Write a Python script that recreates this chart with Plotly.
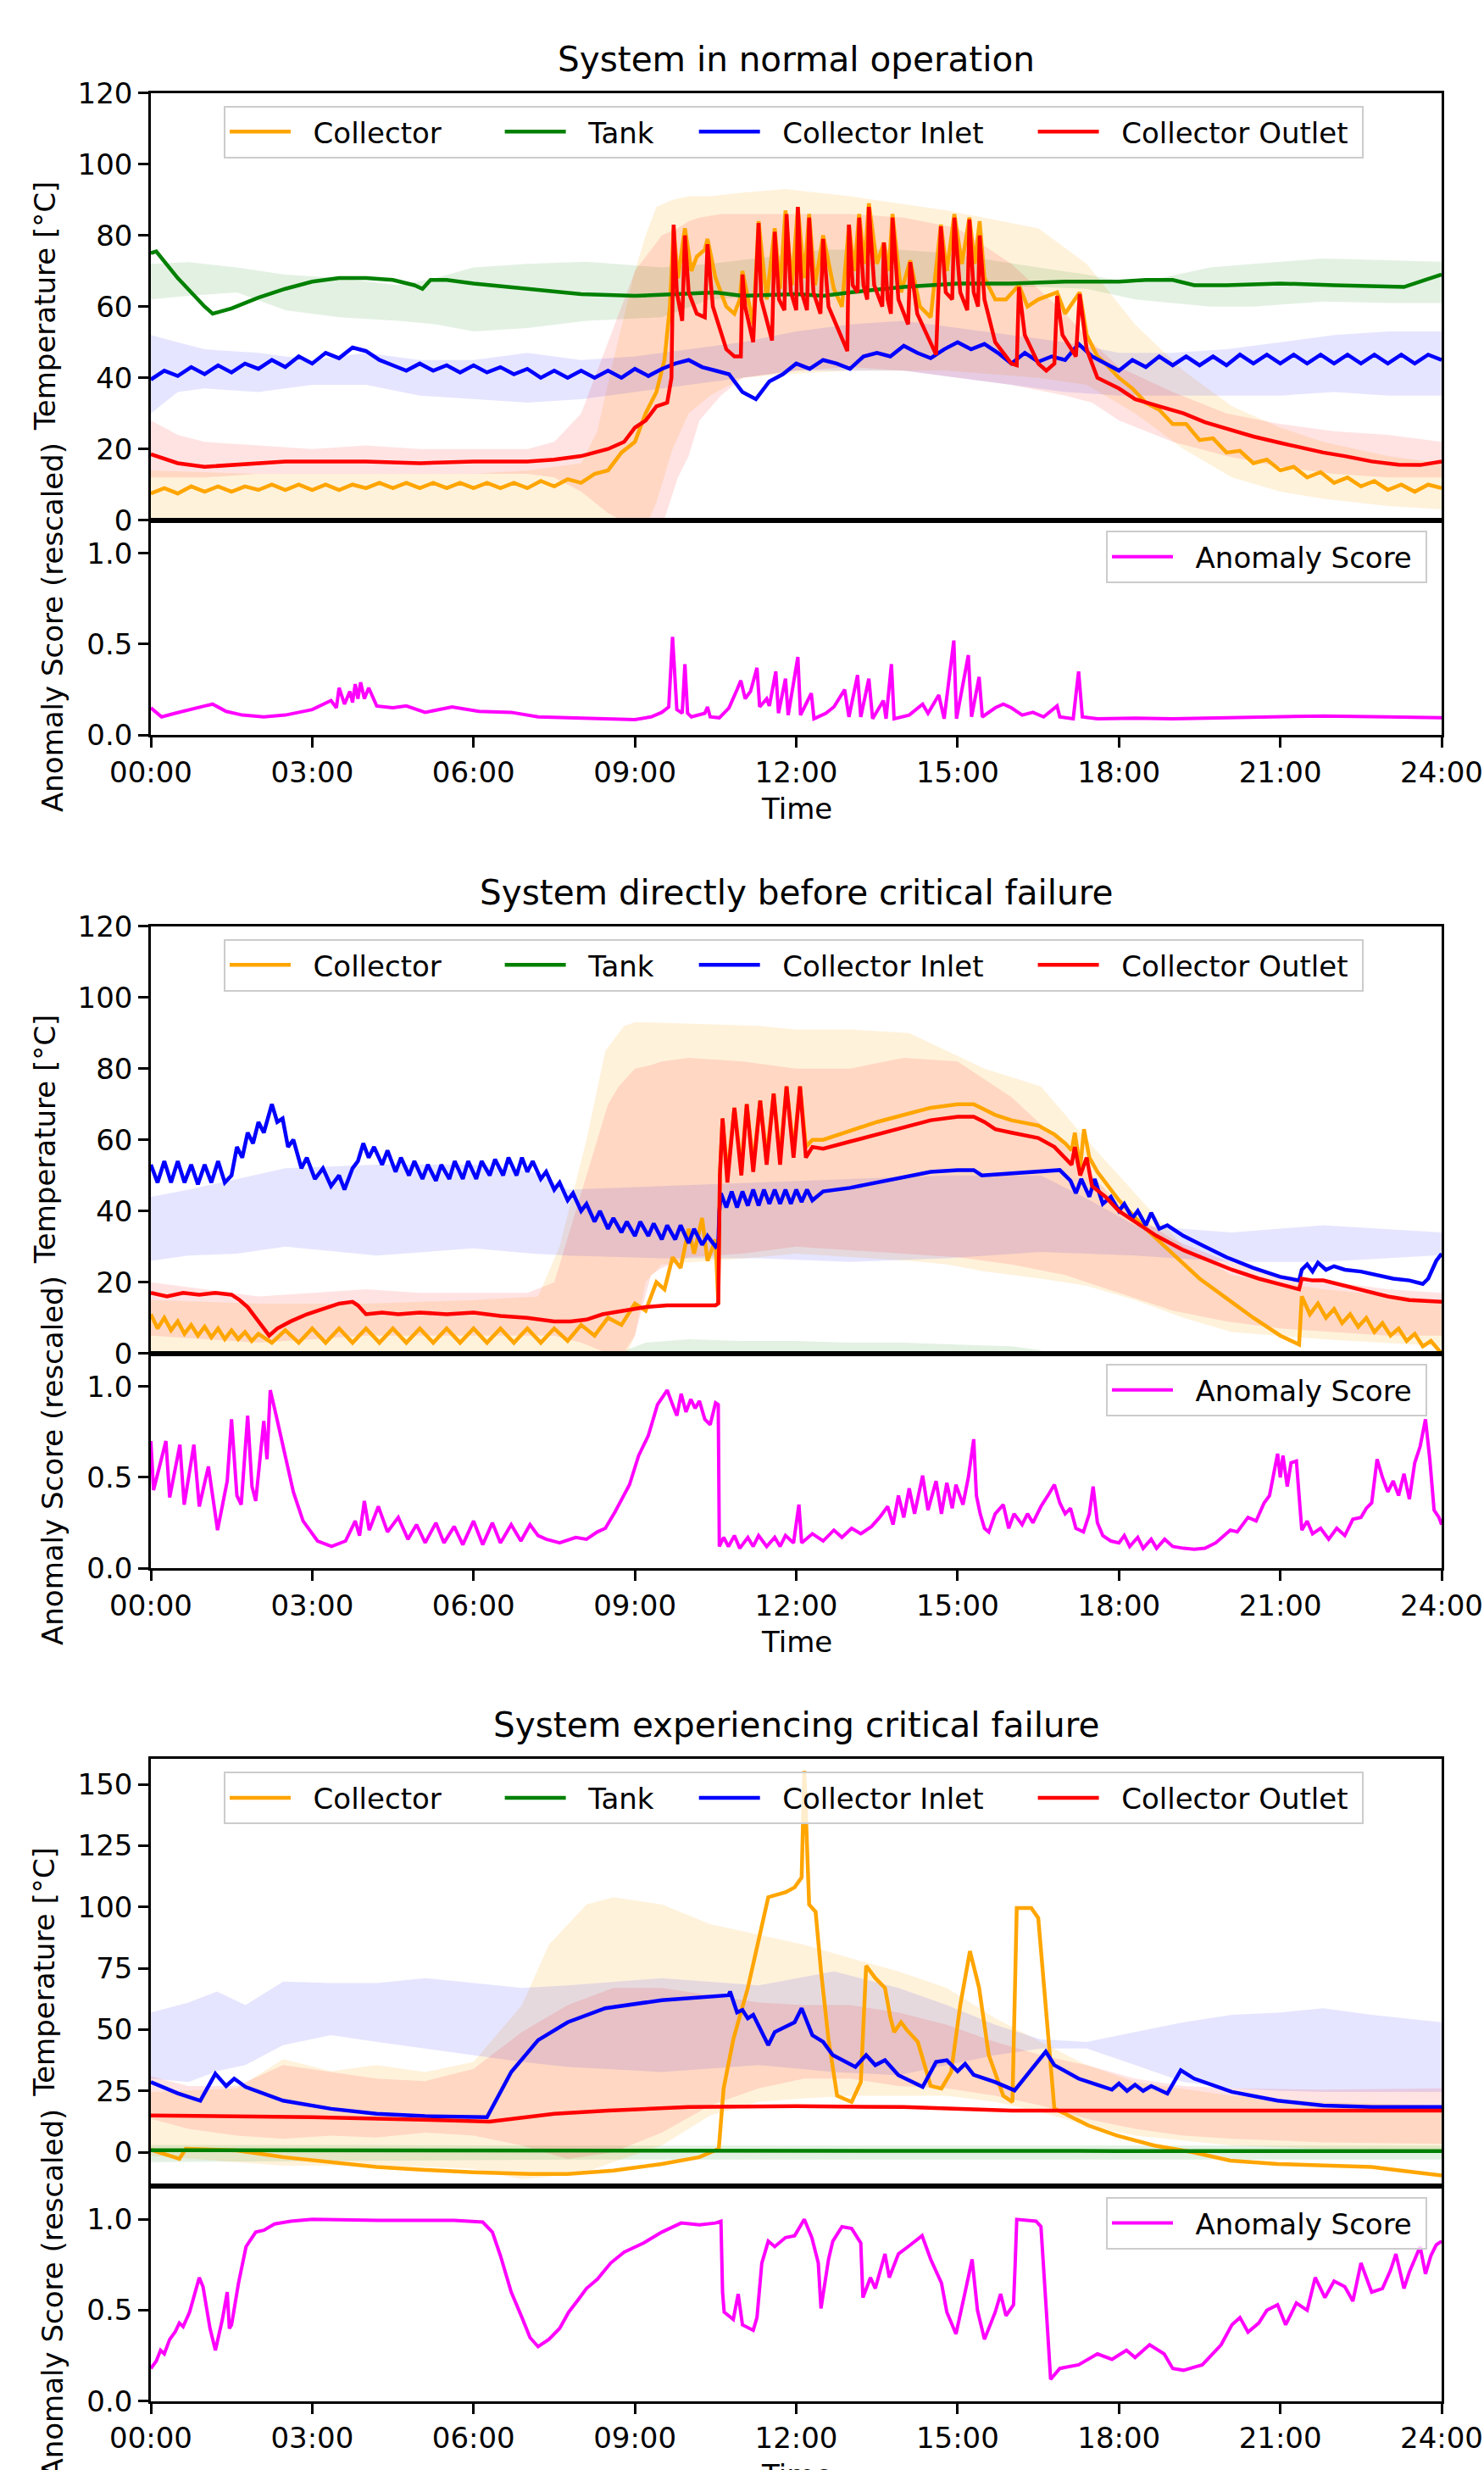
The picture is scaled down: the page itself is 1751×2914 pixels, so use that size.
import plotly.graph_objects as go

W, H = 1751, 2914
FONT = "DejaVu Sans"

# ---------------- data (time in hours) ----------------
TIME_TICKS = [0, 3, 6, 9, 12, 15, 18, 21, 24]
TIME_LABELS = ["00:00", "03:00", "06:00", "09:00", "12:00", "15:00", "18:00", "21:00", "24:00"]
TEMP_TICKS_A = [0, 20, 40, 60, 80, 100, 120]
TEMP_TICKS_B = [0, 25, 50, 75, 100, 125, 150]
SCORE_TICKS = [0.0, 0.5, 1.0]
SCORE_LABELS = ["0.0", "0.5", "1.0"]
TITLES = ["System in normal operation", "System directly before critical failure",
          "System experiencing critical failure"]
SERIES_NAMES = ["Collector", "Tank", "Collector Inlet", "Collector Outlet"]

# ---- Panel 1: normal operation ----
P1_COLLECTOR = [(0,7.5),(0.25,9),(0.5,7.5),(0.75,9.5),(1,8),(1.25,9.5),(1.5,8),(1.75,9.5),(2,8.5),(2.25,10),
    (2.5,8.5),(2.75,10),(3,8.5),(3.25,10),(3.5,8.5),(3.75,10),(4,9),(4.25,10.5),(4.5,9),(4.75,10.5),(5,9),
    (5.25,10.5),(5.5,9),(5.75,10.5),(6,9),(6.25,10.5),(6.5,9),(6.75,10.5),(7,9),(7.25,11),(7.5,9.5),(7.75,11.5),
    (8,10.5),(8.25,13),(8.5,14),(8.75,19),(9,22),(9.2,30),(9.4,36),(9.55,45),(9.65,60),(9.72,82),(9.8,68),
    (9.93,82),(10.05,70),(10.15,74),(10.3,76),(10.35,79),(10.5,68),(10.7,60),(10.85,58),(10.95,62),(11.0,70),
    (11.1,62),(11.2,55),(11.3,84),(11.45,62),(11.6,82),(11.7,65),(11.8,87),(11.92,66),(12.03,88),(12.15,68),
    (12.24,86),(12.35,66),(12.5,80),(12.7,65),(12.85,60),(12.98,83),(13.08,70),(13.17,86),(13.27,72),(13.35,89),
    (13.5,72),(13.63,78),(13.72,70),(13.79,86),(13.95,64),(14.12,73),(14.3,60),(14.5,57),(14.69,83),(14.8,70),
    (14.94,86),(15.08,72),(15.22,85),(15.32,72),(15.41,84),(15.5,68),(15.7,62),(15.9,62),(16.14,66),(16.3,60),
    (16.5,62),(16.85,64),(17.0,58),(17.27,64),(17.4,52),(17.6,46),(17.75,44),(18,40),(18.25,37),(18.5,33),
    (18.75,31),(19,27),(19.25,27),(19.5,22.5),(19.75,23),(20,19),(20.25,19.5),(20.5,16),(20.75,17),(21,14),
    (21.25,15),(21.5,12),(21.75,13.5),(22,10.5),(22.25,12),(22.5,9.5),(22.75,11),(23,8.5),(23.25,10),(23.5,8),
    (23.75,10),(24,9)]
P1_TANK = [(0,75),(0.1,75.5),(0.5,68),(1.0,60),(1.15,58),(1.5,59.5),(2.0,62.5),(2.5,65),(3.0,67),(3.5,68),
    (4.0,68),(4.5,67.5),(4.9,66),(5.05,65),(5.2,67.5),(5.5,67.5),(6.0,66.5),(7.0,65),(8.0,63.5),(9.0,63),
    (10.0,63.5),(10.5,64),(11.0,63),(12.0,63.5),(12.5,63),(13.0,64),(14.0,65.5),(15.0,66.5),(16.0,66.5),
    (17.0,67),(18.0,67),(18.5,67.5),(19.0,67.5),(19.4,66),(20.0,66),(21.0,66.5),(22.0,66),(23.0,65.5),
    (23.3,65.5),(23.7,67.5),(24.0,69)]
P1_INLET = [(0,39.5),(0.25,42),(0.5,40.5),(0.75,43),(1,41),(1.25,43.5),(1.5,41.5),(1.75,44),(2,42.5),(2.25,45),
    (2.5,43),(2.75,46),(3,44),(3.25,47),(3.5,45.5),(3.75,48.5),(4,47.5),(4.25,45),(4.5,43.5),(4.75,42),(5,44),
    (5.25,42),(5.5,43.5),(5.75,41.5),(6,43.5),(6.25,41.5),(6.5,43),(6.75,41),(7,42.5),(7.25,40),(7.5,42),
    (7.75,40),(8,42),(8.25,40),(8.5,42),(8.75,40),(9,42.5),(9.25,40.5),(9.5,42.5),(9.75,44),(10,45),(10.25,43),
    (10.5,42),(10.75,41),(11,36),(11.25,34),(11.5,39),(11.75,41),(12,44),(12.25,42.5),(12.5,45),(12.75,44),
    (13,42.5),(13.25,46),(13.5,47),(13.75,46),(14,49),(14.25,47),(14.5,45.5),(14.75,48),(15,50),(15.25,48),
    (15.5,49.5),(15.75,47),(16,44),(16.25,47),(16.5,44.5),(16.75,46),(17,45),(17.25,49.5),(17.5,46),(17.75,44),
    (18,42),(18.25,45),(18.5,43),(18.75,46),(19,43.5),(19.25,46),(19.5,43.5),(19.75,46),(20,43.5),(20.25,46.5),
    (20.5,44),(20.75,46.5),(21,44),(21.25,46.5),(21.5,44),(21.75,46.5),(22,44),(22.25,46.5),(22.5,44),
    (22.75,46.5),(23,44),(23.25,46.5),(23.5,44),(23.75,46.5),(24,45)]
P1_OUTLET = [(0,18.5),(0.5,16),(1,15),(1.5,15.5),(2,16),(2.5,16.5),(3,16.5),(4,16.5),(5,16),(6,16.5),(7,16.5),
    (7.5,17),(8,18),(8.5,20),(8.8,22),(9.0,26),(9.2,28),(9.4,32),(9.6,33),(9.68,40),(9.72,83),(9.78,64),
    (9.88,56),(9.93,80),(10.0,64),(10.15,58),(10.3,57),(10.35,77.5),(10.45,60),(10.7,48),(10.85,46),(10.97,46),
    (11.0,69),(11.05,60),(11.2,50),(11.3,83.5),(11.35,62),(11.55,50.5),(11.6,81),(11.68,62),(11.78,59),
    (11.82,86),(11.9,64),(12.0,59),(12.03,88),(12.1,64),(12.2,59),(12.24,85),(12.32,64),(12.45,58),(12.5,79),
    (12.6,60),(12.95,47.5),(12.98,83),(13.05,66),(13.14,64),(13.17,85),(13.25,66),(13.32,62),(13.35,88),
    (13.45,66),(13.6,60),(13.63,78),(13.7,62),(13.76,58),(13.79,85),(13.9,62),(14.08,55),(14.12,72.5),
    (14.25,58),(14.6,46.5),(14.69,82.5),(14.78,64),(14.9,62),(14.94,85),(15.05,64),(15.18,59),(15.22,84.5),
    (15.3,64),(15.38,60),(15.41,80),(15.5,62),(15.7,50),(16.0,44),(16.1,43.5),(16.14,65.5),(16.25,52),
    (16.5,44),(16.65,42),(16.8,44),(16.85,63),(16.95,52),(17.2,46),(17.27,63.5),(17.4,48),(17.6,40),(18,37),
    (18.3,34),(18.75,32),(19.2,30),(19.6,27.5),(20.1,25.4),(20.5,23.5),(21,21.7),(21.5,20),(21.8,19),(22.2,18),
    (22.7,16.5),(23.2,15.6),(23.6,15.5),(24,16.5)]
# bands: (time, lower, upper)
P1_COLLECTOR_BAND = [(0,-2,14),(2,-2,13),(4,-2,13),(6,-2,13),(7,-2,14),(8,-2,16),(8.3,-2,25),(8.6,-2,45),
    (9.0,-2,70),(9.2,-2,80),(9.4,5,88),(9.7,20,90),(10.0,30,91),(10.4,35,91),(11,40,92),(11.8,41,93),
    (13,42,91),(14.8,42,87),(16.5,40,82),(17.4,38,72),(18.3,30,55),(19.2,20,42),(20.1,12,32),(21,8,26),
    (21.8,6,22),(23,4,18),(24,3,16)]
P1_TANK_BAND = [(0,62,72),(0.7,63,72.5),(1.6,64,71),(2.5,59,69),(3.5,57,68),(4.6,56,66),(5.3,55,68),
    (6.0,53,71),(7.0,54,72),(8.1,56,72.6),(9.5,57,71),(10.4,62,72),(11.5,63,74),(12.5,64,76),(13.9,65,76),
    (14.8,65.5,75),(16.5,65.5,71),(17.4,65,69),(18.3,62,66.5),(19.7,60,71),(20.5,60,72),(21.8,61.4,73.5),
    (23,61,73),(24,61,72.6)]
P1_INLET_BAND = [(0,30,52),(0.5,36,50),(1,37,48),(2,36,47),(3,38,45),(4,38,47),(5,35,45),(6,34,45),(7,33,47),
    (8,34,45),(9,36,46),(10,38,48),(11,40,50),(12,42,53),(13,42,55),(14,42,56),(15,40,54),(16,38,52),
    (17,36,50),(18,35,47),(19,35,47),(20,35,48),(21,35,50),(22,36,52),(23,35,53),(24,35,53)]
P1_OUTLET_BAND = [(0,12,28),(0.5,12,24),(1,12,22),(2,13,21),(3,13,20),(4,13,21),(5,13,20),(6,13,20),
    (7,13,20),(7.5,12,22),(8,8,30),(8.5,2,50),(9,-2,70),(9.5,-2,80),(9.8,12,82),(10,18,84),(10.2,28,85),
    (10.6,35,86),(11,40,86),(12,42,86),(13,43,86),(14,42,85),(15,40,82),(16,38,72),(17,35,58),(17.5,33,50),
    (18,28,43),(19,22,36),(20,18,30),(21,15,27),(22,13,25),(23,12,24),(24,12,22)]
P1_SCORE = [(0,0.15),(0.2,0.10),(0.45,0.12),(0.7,0.14),(1.0,0.16),(1.15,0.17),(1.4,0.13),(1.7,0.11),
    (2.1,0.10),(2.5,0.11),(3.0,0.14),(3.35,0.19),(3.45,0.15),(3.5,0.26),(3.6,0.17),(3.7,0.24),(3.75,0.18),
    (3.8,0.28),(3.85,0.2),(3.9,0.29),(3.97,0.2),(4.05,0.26),(4.2,0.16),(4.5,0.15),(4.75,0.16),(5.1,0.125),
    (5.6,0.155),(6.1,0.13),(6.7,0.125),(7.2,0.10),(7.75,0.095),(8.4,0.09),(9.0,0.085),(9.3,0.10),(9.5,0.125),
    (9.63,0.155),(9.7,0.54),(9.78,0.14),(9.88,0.12),(9.93,0.39),(9.98,0.12),(10.05,0.1),(10.3,0.12),
    (10.35,0.155),(10.4,0.1),(10.57,0.095),(10.75,0.15),(10.9,0.25),(10.97,0.30),(11.05,0.2),(11.15,0.24),
    (11.27,0.37),(11.32,0.155),(11.45,0.2),(11.5,0.16),(11.62,0.35),(11.67,0.12),(11.8,0.31),(11.85,0.11),
    (12.03,0.43),(12.08,0.11),(12.28,0.23),(12.33,0.09),(12.55,0.12),(12.7,0.155),(12.9,0.25),(12.98,0.1),
    (13.14,0.33),(13.2,0.1),(13.35,0.31),(13.42,0.09),(13.62,0.19),(13.67,0.09),(13.77,0.39),(13.82,0.09),
    (14.1,0.11),(14.35,0.17),(14.45,0.12),(14.65,0.22),(14.75,0.09),(14.93,0.52),(14.98,0.09),(15.2,0.44),
    (15.26,0.1),(15.4,0.32),(15.46,0.1),(15.7,0.15),(15.85,0.17),(16.0,0.15),(16.2,0.11),(16.4,0.125),
    (16.6,0.1),(16.85,0.16),(16.9,0.1),(17.15,0.09),(17.25,0.35),(17.32,0.1),(17.6,0.09),(18.3,0.093),
    (19.0,0.09),(20.1,0.095),(21.0,0.1),(21.8,0.105),(23,0.1),(24,0.095)]

# ---- Panel 2: directly before critical failure ----
P2_COLLECTOR = [(0,11),(0.125,7),(0.25,10),(0.375,6.5),(0.5,9),(0.625,5.5),(0.75,8),(0.875,5),(1.0,7.5),
    (1.125,4.5),(1.25,7),(1.375,4),(1.5,6.5),(1.625,4),(1.75,6),(1.875,3.5),(2.0,5.5),(2.25,3),(2.5,6.5),
    (2.75,3),(3.0,7),(3.25,3),(3.5,7),(3.75,3),(4.0,7),(4.25,3),(4.5,7),(4.75,3),(5.0,7),(5.25,3),(5.5,7),
    (5.75,3),(6.0,7),(6.25,3),(6.5,7),(6.75,3),(7.0,7),(7.25,3),(7.5,7),(7.75,3.5),(8.0,8),(8.25,5),(8.5,10),
    (8.75,8),(9.0,14),(9.2,12),(9.4,20),(9.55,18),(9.7,27),(9.85,24),(10.0,35),(10.1,28),(10.25,38),
    (10.35,26),(10.5,32),(10.55,14),(10.58,50),(10.63,66),(10.72,50),(10.85,69),(10.98,52),(11.08,70),
    (11.2,53),(11.33,71),(11.45,55),(11.58,73),(11.7,55),(11.82,75),(11.95,57),(12.07,75),(12.18,58),
    (12.3,60),(12.5,60),(13.0,62.5),(13.5,65),(14.0,67),(14.5,69),(15.0,70),(15.3,70),(15.5,68.5),(15.7,67),
    (16.0,65.5),(16.5,64),(16.8,61.5),(17.0,59),(17.12,57),(17.18,62),(17.28,52),(17.35,63),(17.45,55),
    (17.6,51),(18.0,43),(18.5,35),(19.0,28),(19.5,21),(20.0,15.5),(20.5,10),(21.0,5),(21.3,3),(21.35,2.5),
    (21.4,16),(21.55,11),(21.7,14),(21.85,10),(22.0,12.5),(22.15,8.5),(22.3,11),(22.45,7.5),(22.6,10),
    (22.75,6),(22.9,8.5),(23.05,5),(23.2,7),(23.35,3.5),(23.5,5.5),(23.65,2),(23.8,3.5),(24.0,0)]
P2_TANK = []  # no tank trace is visible in this panel
P2_INLET = [(0,53),(0.125,48),(0.25,54),(0.375,48),(0.5,54),(0.625,48),(0.75,53),(0.875,47.5),(1.0,53),
    (1.125,48),(1.25,54),(1.375,48),(1.5,50),(1.6,58),(1.7,55),(1.8,62),(1.9,59),(2.0,65),(2.1,62),(2.25,70),
    (2.35,65),(2.45,66),(2.55,58),(2.65,60),(2.8,52),(2.9,55),(3.05,49),(3.2,52),(3.35,47),(3.5,50),(3.6,46),
    (3.75,52),(3.85,54),(3.95,59),(4.05,55),(4.15,58),(4.3,53),(4.4,57),(4.55,51),(4.65,55),(4.8,50),(4.9,54),
    (5.05,49),(5.15,53),(5.3,48.5),(5.4,53),(5.55,49),(5.65,54),(5.8,49),(5.9,54),(6.05,49),(6.15,54),(6.3,50),
    (6.4,54.5),(6.55,50),(6.65,55),(6.8,50),(6.9,55),(7.0,51),(7.1,54),(7.25,49),(7.35,51),(7.5,46),(7.6,48),
    (7.75,43),(7.85,45),(8.0,40),(8.1,42),(8.25,37),(8.35,40),(8.5,35),(8.6,38),(8.75,34),(8.85,37),(9.0,33),
    (9.1,37),(9.25,33),(9.35,36.5),(9.5,32),(9.6,36),(9.75,32),(9.85,36),(10.0,31),(10.1,35),(10.25,30.5),
    (10.35,33),(10.5,30),(10.55,31),(10.57,40),(10.6,45),(10.7,41),(10.8,45.5),(10.9,41),(11.0,45.5),
    (11.1,41.5),(11.2,46),(11.3,41.5),(11.4,46),(11.5,42),(11.6,46),(11.7,42),(11.8,46),(11.9,42),(12.0,46),
    (12.1,42.5),(12.2,46),(12.3,43),(12.5,45.5),(13.0,46.5),(13.5,48),(14.0,49.5),(14.5,51),(15.0,51.5),
    (15.3,51.5),(15.45,50),(15.9,50.5),(16.4,51),(16.9,51.5),(17.1,48.5),(17.2,45),(17.3,49),(17.45,44),
    (17.55,49),(17.7,42),(17.85,44),(18.0,40),(18.1,42),(18.25,38),(18.35,40),(18.5,36),(18.6,39.5),
    (18.75,35),(18.9,36),(19.2,33),(19.6,30),(20.0,27),(20.5,24),(21.0,21.5),(21.35,20.5),(21.4,23.5),
    (21.5,25),(21.6,23),(21.7,25.5),(21.85,23.5),(22.0,24.5),(22.2,23.5),(22.5,23),(22.8,22),(23.1,21),
    (23.4,20.5),(23.65,19.5),(23.75,21),(23.9,26),(24.0,28)]
P2_OUTLET = [(0,17),(0.3,16),(0.6,17),(0.9,16.5),(1.2,17),(1.5,16.5),(1.65,15),(1.8,13),(2.0,9),(2.2,5),
    (2.35,7),(2.6,9),(2.9,11),(3.2,12.5),(3.5,14),(3.75,14.5),(3.85,13.5),(4.0,11),(4.3,11.5),(4.6,11),
    (5.0,11.5),(5.5,11),(6.0,11.5),(6.5,10.5),(7.0,10),(7.5,9),(7.8,9),(8.1,9.5),(8.4,11),(8.8,12),(9.2,13),
    (9.6,13.5),(10.0,13.5),(10.5,13.5),(10.55,14),(10.58,50),(10.63,66),(10.72,48),(10.85,69),(10.98,50),
    (11.08,70),(11.2,51),(11.33,71),(11.45,53),(11.58,73),(11.7,53),(11.82,75),(11.95,55),(12.07,75),
    (12.18,55),(12.3,58),(12.5,57.5),(13.0,59.5),(13.5,61.5),(14.0,63.5),(14.5,65.5),(15.0,66.5),(15.3,66.5),
    (15.5,65),(15.7,63),(16.0,62),(16.5,60.5),(16.8,58),(17.0,55),(17.12,53),(17.18,58),(17.28,50),(17.4,55),
    (17.5,47),(17.75,44),(18.0,40),(18.3,37),(18.7,33),(19.2,29),(19.7,26),(20.1,23.5),(20.6,21),(21.0,19.5),
    (21.35,18),(21.4,21),(21.6,20.5),(21.8,20.5),(22.2,19),(22.6,17.5),(23.0,16),(23.4,15),(23.8,14.5),
    (24.0,14.5)]
P2_COLLECTOR_BAND = [(0,-2,15),(2,-2,14),(4,-2,14),(6,-2,15),(7.2,-2,16),(7.6,-2,30),(8.1,-2,60),
    (8.45,-2,85),(8.8,-2,92),(9.0,5,93),(9.2,20,93),(9.5,25,93),(11.3,27,92),(12,28,91),(13,27,91),
    (14.1,26,90),(14.8,25,85),(15.5,23,80),(16.55,21,75),(17.4,19,60),(18.3,15,45),(19.2,10,30),(20.1,6,22),
    (21.8,4,18),(24,2,15)]
P2_TANK_BAND = [(0,-3,-1),(8.5,-3,-1),(9.2,-3,3),(10,-3,4),(11,-3,3.5),(12,-3,3.5),(13,-3,3),(14,-3,3),
    (15,-3,2.5),(16,-3,2),(16.5,-3,1),(17,-3,-1),(24,-3,-1)]
P2_INLET_BAND = [(0,26,44),(0.7,27.5,46),(1.6,28,49),(2.5,30,52),(4.2,27.5,53),(6.0,29.5,53),(7.1,28,51),
    (7.75,27.5,46),(9.5,26.7,47),(11.3,26.7,48),(13,25.7,49),(14.8,26.7,50),(16.55,28.5,50),(17.4,28,43.5),
    (18.3,27.5,36),(20.1,25.7,34),(21.8,25.7,36),(24,27.6,34)]
P2_OUTLET_BAND = [(0,5,20),(1,4,18),(2,3,16),(3,4,17),(4,5,18),(5,5,17),(6,5,17),(7,5,17),(7.5,5,20),
    (8,3,45),(8.5,0,70),(8.7,-2,75),(9,5,80),(9.3,22,81),(9.5,24,82),(10,27,83),(11,28,82),(12,30,80),
    (13,29,80),(14,28,83),(15,27,82),(16,25,72),(17,22,58),(18,17,42),(19,12,32),(20,9,26),(21,7,22),
    (22,6,20),(23,5,18),(24,5,17)]
P2_SCORE = [(0,0.70),(0.05,0.43),(0.28,0.70),(0.35,0.39),(0.54,0.68),(0.62,0.35),(0.8,0.68),(0.9,0.34),
    (1.07,0.56),(1.24,0.21),(1.42,0.48),(1.5,0.82),(1.6,0.4),(1.68,0.35),(1.8,0.84),(1.88,0.45),(1.95,0.37),
    (2.1,0.81),(2.16,0.6),(2.22,0.98),(2.33,0.84),(2.47,0.65),(2.65,0.42),(2.83,0.26),(3.1,0.15),(3.36,0.12),
    (3.62,0.15),(3.8,0.26),(3.88,0.18),(3.97,0.37),(4.06,0.21),(4.23,0.34),(4.4,0.2),(4.6,0.28),(4.78,0.16),
    (4.94,0.24),(5.1,0.14),(5.3,0.25),(5.45,0.14),(5.64,0.23),(5.8,0.13),(6.0,0.26),(6.17,0.13),(6.35,0.25),
    (6.5,0.14),(6.7,0.24),(6.88,0.15),(7.05,0.24),(7.2,0.18),(7.35,0.16),(7.6,0.14),(7.9,0.17),(8.1,0.16),
    (8.3,0.2),(8.45,0.22),(8.63,0.31),(8.9,0.46),(9.07,0.62),(9.25,0.73),(9.42,0.9),(9.6,0.98),(9.7,0.9),
    (9.78,0.84),(9.86,0.96),(9.95,0.86),(10.04,0.93),(10.12,0.88),(10.2,0.92),(10.3,0.82),(10.4,0.79),
    (10.5,0.91),(10.55,0.9),(10.57,0.12),(10.65,0.17),(10.74,0.12),(10.85,0.18),(10.95,0.11),(11.1,0.17),
    (11.2,0.12),(11.3,0.18),(11.45,0.12),(11.6,0.17),(11.7,0.12),(11.8,0.18),(11.95,0.14),(12.05,0.35),
    (12.1,0.14),(12.3,0.19),(12.5,0.15),(12.7,0.21),(12.85,0.17),(13.03,0.22),(13.2,0.19),(13.4,0.23),
    (13.55,0.28),(13.7,0.34),(13.8,0.24),(13.9,0.4),(14.0,0.28),(14.1,0.44),(14.2,0.3),(14.35,0.51),
    (14.45,0.32),(14.6,0.48),(14.7,0.3),(14.8,0.47),(14.9,0.33),(14.97,0.46),(15.1,0.35),(15.2,0.5),
    (15.3,0.71),(15.35,0.4),(15.42,0.3),(15.5,0.22),(15.58,0.2),(15.7,0.3),(15.85,0.35),(15.95,0.22),
    (16.05,0.3),(16.2,0.24),(16.3,0.3),(16.4,0.25),(16.55,0.34),(16.7,0.41),(16.8,0.46),(16.9,0.36),(17.0,0.3),
    (17.1,0.33),(17.2,0.22),(17.34,0.2),(17.45,0.3),(17.52,0.45),(17.6,0.25),(17.7,0.18),(17.85,0.15),
    (18.0,0.14),(18.1,0.18),(18.2,0.12),(18.35,0.17),(18.45,0.11),(18.6,0.16),(18.7,0.11),(18.85,0.16),
    (19.0,0.12),(19.2,0.11),(19.4,0.105),(19.6,0.11),(19.8,0.14),(20.07,0.21),(20.2,0.2),(20.4,0.28),
    (20.55,0.26),(20.7,0.36),(20.8,0.4),(20.95,0.63),(21.0,0.5),(21.05,0.62),(21.13,0.45),(21.2,0.58),
    (21.3,0.59),(21.35,0.4),(21.4,0.21),(21.5,0.26),(21.6,0.19),(21.75,0.22),(21.9,0.16),(22.05,0.22),
    (22.2,0.18),(22.35,0.27),(22.5,0.28),(22.6,0.33),(22.7,0.36),(22.8,0.6),(22.9,0.5),(23.0,0.42),(23.1,0.48),
    (23.2,0.4),(23.3,0.52),(23.4,0.38),(23.5,0.58),(23.6,0.67),(23.7,0.82),(23.78,0.6),(23.86,0.32),
    (23.95,0.28),(24.0,0.24)]

# ---- Panel 3: experiencing critical failure ----
P3_COLLECTOR = [(0,1),(0.2,-0.5),(0.53,-2.7),(0.65,1.4),(1.6,0.7),(2.46,-2),(3.3,-4),(4.2,-6),(5.1,-7.2),
    (6,-8.2),(7.05,-8.9),(7.75,-8.9),(8.6,-7.5),(9.5,-4.8),(10.2,-2),(10.56,1.4),(10.65,26),(10.83,46),
    (11.1,67),(11.36,93),(11.48,104),(11.8,106),(11.97,108),(12.1,112),(12.15,155.5),(12.24,101),(12.36,98),
    (12.46,74),(12.6,46),(12.76,23),(13.03,20.5),(13.2,28.6),(13.3,76),(13.47,71),(13.65,67),(13.75,55),
    (13.82,49),(13.95,53),(14.05,50),(14.26,45),(14.5,27),(14.7,26),(14.88,32.7),(15.05,60),(15.23,82),
    (15.4,67),(15.58,39.6),(15.85,23),(16.02,20.5),(16.1,99.6),(16.37,99.6),(16.5,95.5),(16.64,60),(16.8,17.7),
    (17.0,15.7),(17.43,10.9),(17.96,6.8),(18.66,2.7),(19.37,0),(20.07,-3.4),(20.95,-4.8),(21.83,-5.5),
    (22.7,-6),(23.24,-7.5),(24,-9.5)]
P3_TANK = [(0,0.8),(6,0.6),(12,0.5),(18,0.5),(24,0.5)]
P3_INLET = [(0,28.6),(0.5,24),(0.92,21),(1.2,32),(1.4,27),(1.55,30),(1.76,26.6),(2.46,21),(3.35,17.7),
    (4.2,15.7),(5.1,14.7),(6.25,14.3),(6.7,32.7),(7.2,45.7),(7.75,53),(8.45,58.7),(9.5,62),(10.74,64),
    (10.77,65.5),(10.9,57),(11.0,58),(11.1,54.6),(11.2,56),(11.48,43.7),(11.6,49),(11.97,53),(12.1,58.7),
    (12.3,47.7),(12.5,45),(12.68,39.6),(13.1,34.8),(13.3,39.6),(13.47,35.5),(13.65,37.5),(13.9,31.4),
    (14.35,26.6),(14.6,36.8),(14.8,37.5),(15.0,33),(15.14,36),(15.3,31.5),(15.7,28.6),(16.06,25.2),(16.64,41),
    (16.8,35.5),(17.25,30),(17.6,27.5),(17.87,25.5),(18.0,28),(18.15,25),(18.3,27.5),(18.45,25),(18.6,27),
    (18.9,23.9),(19.15,33.4),(19.4,30),(20.1,24.6),(20.95,21),(21.8,19),(22.7,18.4),(24,18.4)]
P3_OUTLET = [(0,15),(3,14.3),(5.5,13),(6.3,12.5),(7.5,15.7),(8.5,17),(10,18.4),(12,18.8),(14,18.4),(16,17),
    (18,17),(20,17),(22,17),(24,17)]
P3_COLLECTOR_BAND = [(0,-1.4,24.6),(1.6,-4,26),(2.46,-5.5,38),(3.35,-5.5,33),(4.2,-5.5,35.5),(5.1,-6,32.7),
    (6,-6.8,36.8),(6.9,-11,60),(7.4,-10,84.6),(8.1,-8,101),(8.6,-4,104),(9.5,2.7,101),(10.4,15,93),
    (11.3,20.5,88.7),(12.15,22,84.6),(13.03,23,79),(13.9,23,73.7),(14.8,23,67),(15.7,20.5,54.6),
    (16.55,16.4,45),(17.4,11,35.5),(18.3,6.8,28.6),(20.1,2.7,23),(21.8,1.4,20.5),(24,0.7,19)]
P3_TANK_BAND = [(0,-4,3),(4,-3.5,3),(8,-3,2.7),(12,-3,2.7),(16,-3,2.7),(20,-3,2.7),(24,-3,2.7)]
P3_INLET_BAND = [(0,30,57),(0.7,28.6,61),(1.23,33,65.5),(1.76,35.5,60),(2.46,43.7,69.6),(3.35,47.7,69),
    (4.2,45,69),(5.1,42.3,71),(6,39.6,69),(6.9,36.8,67),(7.75,34.8,68),(9.5,32.7,71),(11.3,35.5,68),
    (12.7,32.7,73.7),(13.9,31.4,67),(14.8,35.5,60),(15.7,39.6,52),(16.55,42.3,46),(17.4,42.3,45),
    (18.3,35.5,49),(19.2,28.6,53),(20.1,26,56),(21,25,57),(21.8,24.6,58.7),(22.7,24.6,56),(24,24.6,53)]
P3_OUTLET_BAND = [(0,13.6,31),(0.7,9.5,27),(1.6,6.8,27),(2.46,5.5,35.5),(3.35,6.8,32.7),(4.2,6,30),
    (5.1,8,29),(6,6.8,34),(6.9,2.7,49),(7.75,-2.7,60),(8.6,0,67),(9.5,8,67),(10.4,19,64),(11.3,26,61),
    (12.15,30,60),(13,30,60),(13.9,27,57),(14.8,26,52),(15.7,23,45),(16.55,19,39.6),(17.4,13.6,35.5),
    (18.3,9.5,30),(19.2,6.8,27),(20.1,5.5,26),(21.8,4,25.5),(24,3.4,26)]
P3_SCORE = [(0,0.18),(0.1,0.22),(0.18,0.28),(0.25,0.26),(0.35,0.34),(0.45,0.38),(0.53,0.43),(0.6,0.41),
    (0.72,0.49),(0.8,0.58),(0.9,0.68),(0.97,0.63),(1.1,0.4),(1.2,0.28),(1.33,0.45),(1.42,0.6),(1.46,0.4),
    (1.5,0.42),(1.63,0.65),(1.77,0.85),(1.95,0.93),(2.1,0.94),(2.3,0.975),(2.6,0.99),(3.0,1.0),(4.23,0.995),
    (5.64,0.995),(6.17,0.985),(6.35,0.93),(6.5,0.8),(6.7,0.6),(6.9,0.46),(7.05,0.35),(7.2,0.30),(7.4,0.34),
    (7.6,0.4),(7.77,0.49),(7.95,0.56),(8.1,0.62),(8.3,0.67),(8.55,0.76),(8.8,0.82),(9.16,0.87),(9.5,0.93),
    (9.86,0.98),(10.2,0.97),(10.5,0.98),(10.6,0.99),(10.63,0.6),(10.66,0.49),(10.83,0.45),(10.92,0.59),
    (11.0,0.42),(11.2,0.39),(11.27,0.46),(11.36,0.76),(11.48,0.88),(11.6,0.85),(11.8,0.9),(11.97,0.91),
    (12.15,1.0),(12.29,0.9),(12.41,0.76),(12.46,0.51),(12.6,0.78),(12.68,0.88),(12.85,0.96),(13.03,0.95),
    (13.2,0.87),(13.24,0.57),(13.38,0.68),(13.47,0.62),(13.65,0.81),(13.73,0.68),(13.9,0.81),(14.08,0.85),
    (14.34,0.91),(14.5,0.78),(14.7,0.65),(14.8,0.49),(14.97,0.37),(15.14,0.6),(15.27,0.78),(15.37,0.5),
    (15.5,0.34),(15.7,0.49),(15.8,0.59),(15.9,0.47),(16.04,0.53),(16.07,0.75),(16.1,1.0),(16.46,0.99),
    (16.55,0.96),(16.65,0.5),(16.73,0.12),(16.9,0.18),(17.25,0.2),(17.6,0.26),(17.87,0.23),(18.14,0.28),
    (18.3,0.24),(18.57,0.31),(18.84,0.26),(19.0,0.18),(19.2,0.17),(19.55,0.2),(19.9,0.31),(20.1,0.42),
    (20.25,0.46),(20.4,0.38),(20.6,0.43),(20.75,0.5),(20.95,0.53),(21.1,0.42),(21.3,0.54),(21.5,0.5),
    (21.65,0.68),(21.83,0.57),(22.0,0.66),(22.2,0.63),(22.35,0.55),(22.5,0.76),(22.7,0.6),(22.9,0.62),
    (23.05,0.72),(23.15,0.81),(23.3,0.62),(23.4,0.71),(23.6,0.85),(23.7,0.7),(23.8,0.8),(23.9,0.86),(24,0.88)]

# ---------------- styling ----------------
LINE_COLORS = ["#FFA500", "#008000", "#0000FF", "#FF0000"]
BAND_COLORS = ["rgba(255,165,0,0.14)", "rgba(0,128,0,0.11)", "rgba(0,0,255,0.10)", "rgba(255,0,0,0.11)"]
SCORE_COLOR = "#FF00FF"
NBSP = "\u00a0"
FS = 34          # tick / label / legend font size (px)
FS_TITLE = 40.5  # title font size (px)
# spacing between legend entries (matplotlib-like column spacing)
LEGEND_LEAD = 2
LEGEND_PAD = [6, 4, 5, 1]

PANELS = [
    dict(title=TITLES[0], lines=[P1_COLLECTOR, P1_TANK, P1_INLET, P1_OUTLET],
         bands=[P1_COLLECTOR_BAND, P1_TANK_BAND, P1_INLET_BAND, P1_OUTLET_BAND], score=P1_SCORE,
         top=109.7, trange=[0, 120], tticks=TEMP_TICKS_A),
    dict(title=TITLES[1], lines=[P2_COLLECTOR, P2_TANK, P2_INLET, P2_OUTLET],
         bands=[P2_COLLECTOR_BAND, P2_TANK_BAND, P2_INLET_BAND, P2_OUTLET_BAND], score=P2_SCORE,
         top=1092.7, trange=[0, 120], tticks=TEMP_TICKS_A),
    dict(title=TITLES[2], lines=[P3_COLLECTOR, P3_TANK, P3_INLET, P3_OUTLET],
         bands=[P3_COLLECTOR_BAND, P3_TANK_BAND, P3_INLET_BAND, P3_OUTLET_BAND], score=P3_SCORE,
         top=2075.3, trange=[-13.9, 160.3], tticks=TEMP_TICKS_B),
]
TEMP_H, SCORE_H = 504.0, 253.5
X0, X1 = 178.0, 1701.0


def xp(px):
    return px / W


def yp(px):
    return 1 - px / H


fig = go.Figure()
layout = dict(width=W, height=H, autosize=False, margin=dict(l=0, r=0, t=0, b=0, pad=0),
              paper_bgcolor="white", plot_bgcolor="white",
              font=dict(family=FONT, size=FS, color="black"), annotations=[], template="none")

axis_common = dict(showgrid=False, zeroline=False, showline=True, mirror=True, linecolor="black",
                   linewidth=2.5, tickcolor="black", tickwidth=2.5, ticklen=12, automargin=False,
                   tickfont=dict(family=FONT, size=FS, color="black"))

for i, p in enumerate(PANELS):
    t_ax = 2 * i + 1
    s_ax = 2 * i + 2
    top = p["top"]
    mid = top + TEMP_H
    bot = mid + SCORE_H
    tname = "" if t_ax == 1 else str(t_ax)
    sname = str(s_ax)
    leg_t = "legend" if i == 0 else "legend%d" % (2 * i + 1)
    leg_s = "legend%d" % (2 * i + 2)

    # bands first
    for band, col in zip(p["bands"], BAND_COLORS):
        bt = [b[0] for b in band]
        lo = [b[1] for b in band]
        hi = [b[2] for b in band]
        fig.add_trace(go.Scatter(x=bt + bt[::-1], y=lo + hi[::-1], fill="toself", fillcolor=col,
                                 mode="lines", line=dict(width=0), hoverinfo="skip", showlegend=False,
                                 xaxis="x" + tname, yaxis="y" + tname))
    # lines
    for k, (name, series, col) in enumerate(zip(SERIES_NAMES, p["lines"], LINE_COLORS)):
        if series:
            st = [s[0] for s in series]
            sv = [s[1] for s in series]
        else:
            st, sv = [0, 24], [None, None]
        label = NBSP * LEGEND_LEAD + name + NBSP * LEGEND_PAD[k]
        fig.add_trace(go.Scatter(x=st, y=sv, mode="lines", name=label, line=dict(color=col, width=4.5),
                                 legend=leg_t, xaxis="x" + tname, yaxis="y" + tname))
    fig.add_trace(go.Scatter(x=[s[0] for s in p["score"]], y=[s[1] for s in p["score"]], mode="lines",
                             name=NBSP * LEGEND_LEAD + "Anomaly Score" + NBSP,
                             line=dict(color=SCORE_COLOR, width=4),
                             legend=leg_s, xaxis="x" + sname, yaxis="y" + sname))

    layout["xaxis" + tname] = dict(axis_common, domain=[xp(X0), xp(X1)], range=[0, 24], anchor="y" + tname,
                                   ticks="", showticklabels=False)
    layout["yaxis" + tname] = dict(axis_common, domain=[yp(mid), yp(top)], range=p["trange"],
                                   anchor="x" + tname, ticks="outside", tickvals=p["tticks"])
    layout["xaxis" + sname] = dict(axis_common, domain=[xp(X0), xp(X1)], range=[0, 24], anchor="y" + sname,
                                   ticks="outside", tickvals=TIME_TICKS, ticktext=TIME_LABELS)
    layout["yaxis" + sname] = dict(axis_common, domain=[yp(bot), yp(mid)], range=[0, 1.182],
                                   anchor="x" + sname, ticks="outside", tickvals=SCORE_TICKS,
                                   ticktext=SCORE_LABELS)

    leg_style = dict(orientation="h", font=dict(family=FONT, size=FS, color="black"),
                     bgcolor="rgba(255,255,255,0.8)", bordercolor="#cccccc", borderwidth=2,
                     itemwidth=72, yanchor="top")
    layout[leg_t] = dict(leg_style, x=xp(264), xanchor="left", y=yp(top + 15))
    layout[leg_s] = dict(leg_style, x=xp(1684), xanchor="right", y=yp(mid + 12.5))

    ann = layout["annotations"]
    ann.append(dict(text=p["title"], x=xp((X0 + X1) / 2), y=yp(top - 40), xref="paper", yref="paper",
                    showarrow=False, xanchor="center", yanchor="middle",
                    font=dict(family=FONT, size=FS_TITLE, color="black")))
    ann.append(dict(text="Temperature [°C]", x=xp(52.5), y=yp(top + TEMP_H / 2), xref="paper", yref="paper",
                    showarrow=False, textangle=-90, xanchor="center", yanchor="middle",
                    font=dict(family=FONT, size=FS, color="black")))
    ann.append(dict(text="Anomaly Score (rescaled)", x=xp(62.5), y=yp(mid + SCORE_H / 2), xref="paper",
                    yref="paper", showarrow=False, textangle=-90, xanchor="center", yanchor="middle",
                    font=dict(family=FONT, size=FS, color="black")))
    ann.append(dict(text="Time", x=xp((X0 + X1) / 2), y=yp(bot + 87), xref="paper", yref="paper",
                    showarrow=False, xanchor="center", yanchor="middle",
                    font=dict(family=FONT, size=FS, color="black")))

fig.update_layout(**layout)
fig.write_html("out.html", config={"displayModeBar": False},
               post_script="document.body.style.margin='0';")
